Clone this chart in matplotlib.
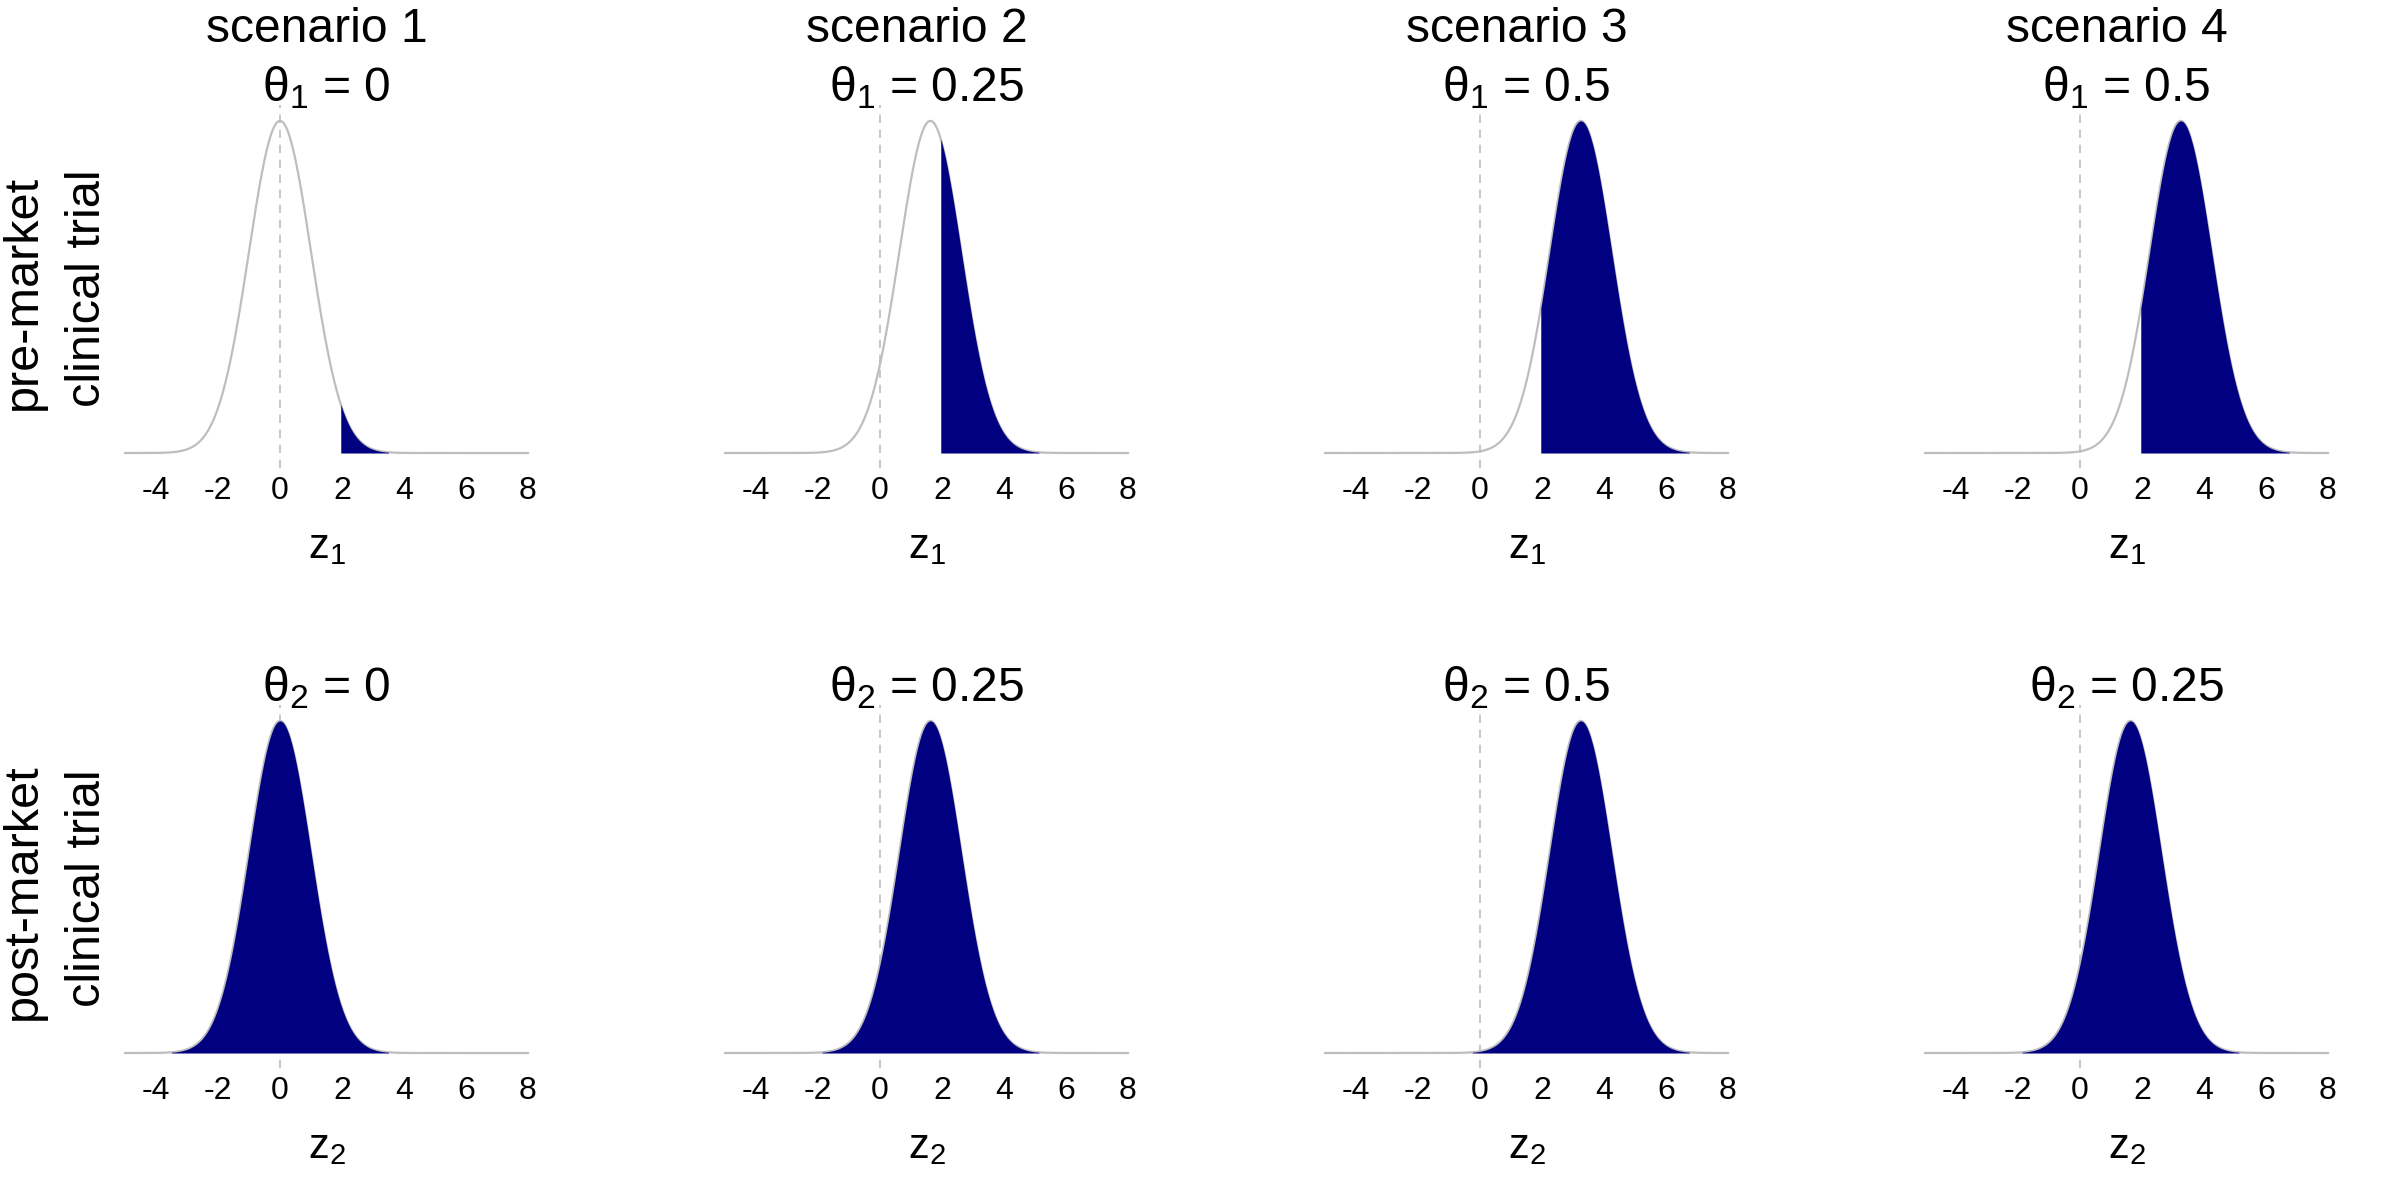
#!/usr/bin/env python3
"""Power picture: sampling distributions of z1 / z2 under four scenarios."""

import numpy as np
import matplotlib
matplotlib.use("Agg")
import matplotlib.pyplot as plt

plt.rcParams["font.family"] = ["Liberation Sans", "DejaVu Sans"]
plt.rcParams["mathtext.fontset"] = "custom"
plt.rcParams["mathtext.rm"] = "Liberation Sans"
plt.rcParams["mathtext.it"] = "Liberation Sans"

scenarios = ["scenario 1", "scenario 2", "scenario 3", "scenario 4"]
theta1_labels = ["0", "0.25", "0.5", "0.5"]
theta2_labels = ["0", "0.25", "0.5", "0.25"]
mean_z1 = [0.0, 1.625, 3.25, 3.25]
mean_z2 = [0.0, 1.625, 3.25, 1.625]
crit = 1.96
row_labels = [("pre-market", "clinical trial"), ("post-market", "clinical trial")]
xticks = [-4, -2, 0, 2, 4, 6, 8]

NAVY = "#000080"
GREY = "#BEBEBE"

W, H = 2400, 1200
fig = plt.figure(figsize=(12, 6), dpi=200)


def px_axes(left, top, width, height):
    return fig.add_axes([left / W, 1 - (top + height) / H, width / W, height / H])


def dens(x, mu):
    return np.exp(-0.5 * (x - mu) ** 2) / np.sqrt(2 * np.pi)


x = np.linspace(-5, 8, 1301)
for r, (means, thetas) in enumerate([(mean_z1, theta1_labels), (mean_z2, theta2_labels)]):
    for c in range(4):
        mu = means[c]
        ax = px_axes(108.9 + 600 * c, 105 + 600 * r, 435.2, 363)
        ax.plot(x, dens(x, mu), color=GREY, lw=0.8, zorder=2)
        lo = max(crit, mu - 3.5) if r == 0 else mu - 3.5
        xs = np.linspace(lo, mu + 3.5, 400)
        ax.fill_between(xs, 0, dens(xs, mu), color=NAVY, lw=0, zorder=3)
        ax.axvline(0, color=GREY, lw=0.6, dashes=(5, 4), zorder=1)
        ax.set_xlim(-5.52, 8.52)
        ax.set_ylim(-0.018, 0.418)
        ax.set_xticks(xticks)
        ax.set_xticklabels([str(t) for t in xticks])
        ax.set_yticks([])
        ax.tick_params(axis="x", length=0, pad=3, labelsize=11.5)
        for s in ax.spines.values():
            s.set_visible(False)
        ax.patch.set_alpha(0)

        cx = (280 + 600 * c + 1.5 * 31) / W
        if r == 0:
            fig.text(cx - 10 / W, 1 - 42 / H, scenarios[c], ha="center",
                     va="baseline", fontsize=17.3)
        fig.text(cx, 1 - (101 + 600 * r) / H,
                 r"$\mathregular{\theta_%d}$ = %s" % (r + 1, thetas[c]),
                 ha="center", va="baseline", fontsize=17.3)
        fig.text(cx, 1 - (558 + 600 * r) / H, r"$\mathregular{z_%d}$" % (r + 1),
                 ha="center", va="baseline", fontsize=15)

    l1, l2 = row_labels[r]
    fig.text(23 / W, 1 - (292 + 600 * r) / H, l1, rotation=90, ha="center",
             va="center", fontsize=17.5)
    fig.text(88 / W, 1 - (288 + 600 * r) / H, l2, rotation=90, ha="center",
             va="center", fontsize=17.5)

fig.savefig("out.png", dpi=200)
